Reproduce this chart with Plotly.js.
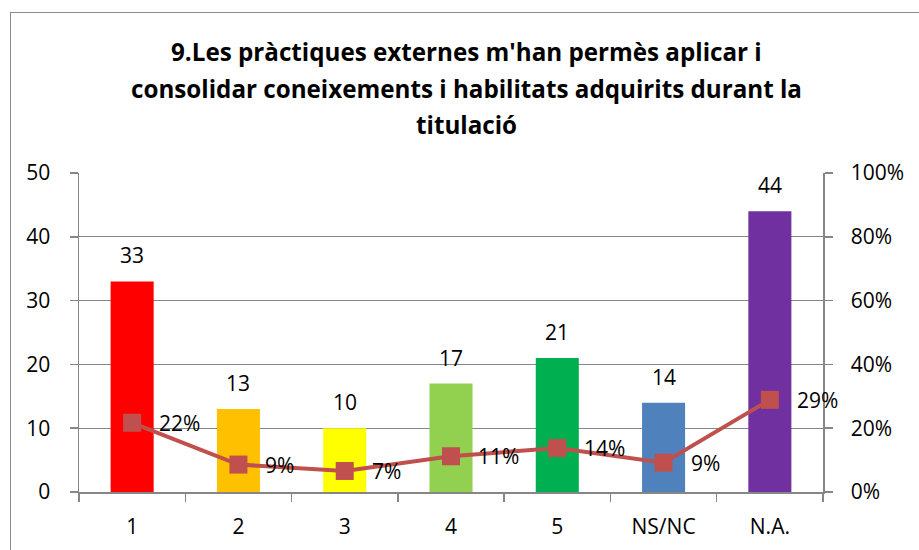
<!DOCTYPE html>
<html><head><meta charset="utf-8">
<script src="https://cdn.plot.ly/plotly-3.0.1.min.js"></script>
<style>
body{margin:0;overflow:hidden;background:#fff;}
#chart{position:absolute;left:0;top:0;width:919px;height:550px;}
#frame{position:absolute;left:10px;top:12px;width:1000px;height:600px;border:1.5px solid #8a8a8a;pointer-events:none;}
</style>
</head><body>
<div id="chart"></div><div id="frame"></div>
<script>
const categories = ['1','2','3','4','5','NS/NC','N.A.'];
const counts = [33,13,10,17,21,14,44];
const shares = [0.217,0.086,0.066,0.112,0.138,0.092,0.289];
const shareLabels = ['22%','9%','7%','11%','14%','9%','29%'];
const barColors = ['#FF0000','#FFC000','#FFFF00','#92D050','#00B050','#4F81BD','#7030A0'];
const titleLines = [
  "9.Les pràctiques externes m'han permès aplicar i",
  "consolidar coneixements i habilitats adquirits durant la",
  "titulació"
];

const FONT = '"Open Sans", Lato, sans-serif';
const gridCol = '#868686';
const plotTop = 173, plotBottom = 492, plotLeft = 79, plotRight = 823;
const titleY = [52, 88, 124];

const annotations = [];
titleLines.forEach((t, i) => {
  annotations.push({
    text: '<b>' + t + '</b>', xref: 'paper', yref: 'paper',
    x: (466 - plotLeft) / (plotRight - plotLeft),
    y: (plotBottom - titleY[i]) / (plotBottom - plotTop),
    xanchor: 'center', yanchor: 'middle', showarrow: false,
    font: {family: FONT, size: 24.2, color: '#000'}
  });
});
categories.forEach((c, i) => {
  annotations.push({
    text: String(counts[i]), x: i, y: counts[i], xref: 'x', yref: 'y',
    yshift: 26, showarrow: false, xanchor: 'center', yanchor: 'middle',
    font: {family: FONT, size: 21, color: '#000'}
  });
  annotations.push({
    text: shareLabels[i], x: i, y: shares[i], xref: 'x', yref: 'y2',
    xshift: 25, showarrow: false, xanchor: 'left', yanchor: 'middle',
    font: {family: FONT, size: 21, color: '#000'}
  });
});

const data = [
  {
    type: 'bar', x: categories, y: counts,
    marker: {color: barColors, line: {width: 0}},
    hoverinfo: 'x+y', showlegend: false
  },
  {
    type: 'scatter', mode: 'lines+markers', x: categories, y: shares, yaxis: 'y2',
    line: {color: '#C0504D', width: 4},
    marker: {symbol: 'square', size: 18, color: '#C0504D'},
    showlegend: false
  }
];

const layout = {
  width: 919, height: 550,
  margin: {l: plotLeft, r: 919 - plotRight, t: plotTop, b: 550 - plotBottom, pad: 0},
  paper_bgcolor: 'rgba(0,0,0,0)', plot_bgcolor: '#fff',
  font: {family: FONT, size: 21, color: '#000'},
  bargap: 0.595,
  xaxis: {
    type: 'category', range: [-0.5, 6.5], showline: true, linecolor: gridCol, linewidth: 1.5,
    ticks: 'outside', tickson: 'boundaries', ticklen: 8, tickcolor: gridCol, tickwidth: 1.5,
    showgrid: false, zeroline: false, ticklabelstandoff: 15,
    tickfont: {family: FONT, size: 21, color: '#000'}
  },
  yaxis: {
    range: [0, 50], dtick: 10, showline: true, linecolor: gridCol, linewidth: 1.5,
    ticks: 'outside', ticklen: 8, tickcolor: gridCol, tickwidth: 1.5,
    showgrid: true, gridcolor: gridCol, gridwidth: 1.2, zeroline: false,
    ticklabelstandoff: 15, tickfont: {family: FONT, size: 21, color: '#000'}
  },
  yaxis2: {
    range: [0, 1], dtick: 0.2, tickformat: '.0%', overlaying: 'y', side: 'right',
    showline: true, linecolor: gridCol, linewidth: 1.5,
    ticks: 'outside', ticklen: 8, tickcolor: gridCol, tickwidth: 1.5,
    showgrid: false, zeroline: false, ticklabelstandoff: 14,
    tickfont: {family: FONT, size: 21, color: '#000'}
  },
  annotations: annotations
};

Plotly.newPlot('chart', data, layout, {displayModeBar: false, staticPlot: true});
</script>
</body></html>
